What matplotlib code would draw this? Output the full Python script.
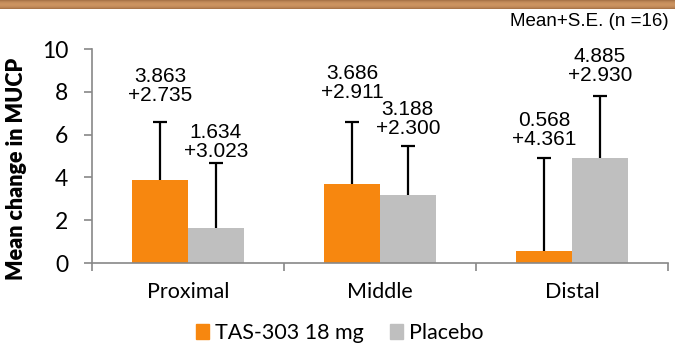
import numpy as np
import matplotlib
matplotlib.use("Agg")
import matplotlib.pyplot as plt
from matplotlib.patches import Rectangle

categories = ["Proximal", "Middle", "Distal"]
series_names = ["TAS-303 18 mg", "Placebo"]
tas_mean = [3.863, 3.686, 0.568]
tas_se = [2.735, 2.911, 4.361]
pla_mean = [1.634, 3.188, 4.885]
pla_se = [3.023, 2.300, 2.930]
yticks = [0, 2, 4, 6, 8, 10]
note = "Mean+S.E. (n =16)"
ylabel = "Mean change in MUCP"

colors = ["#F7870F", "#BFBFBF"]
label_gap_px = [[17, 20, 9], [2, 8, 11]]

W, H = 675, 344
fig = plt.figure(figsize=(W / 100, H / 100), dpi=100)

# header bar
hax = fig.add_axes([0, 1 - 9 / H, 1, 9 / H])
grad = np.linspace(0, 1, 50)
c1 = np.array([0.62, 0.42, 0.26])
c2 = np.array([0.80, 0.58, 0.38])
img = np.array([c1 + (c2 - c1) * (np.sin(np.pi * g) ** 0.7) for g in grad])[:, None, :]
img = np.repeat(img, 10, axis=1)
hax.imshow(img, aspect="auto", extent=[0, 1, 0, 1])
hax.axis("off")

left, right = 92 / W, 668 / W
bottom, top = 1 - 263 / H, 1 - 49 / H
ax = fig.add_axes([left, bottom, right - left, top - bottom])

x = np.arange(len(categories))
bw = 0.29
means = [tas_mean, pla_mean]
ses = [tas_se, pla_se]
offs = [-bw / 2, bw / 2]
for i in range(2):
    xs = x + offs[i]
    ax.bar(xs, means[i], width=bw, color=colors[i], label=series_names[i], zorder=2)
    eb = ax.errorbar(xs, means[i], yerr=[np.zeros(3), ses[i]], fmt="none", ecolor="black",
                     elinewidth=1.6, capsize=5, capthick=1.6, zorder=3)
    eb[1][0].set_visible(False)
    for j in range(3):
        ax.annotate(f"{means[i][j]:.3f}\n+{ses[i][j]:.3f}",
                    xy=(xs[j], means[i][j] + ses[i][j]),
                    xytext=(0, label_gap_px[i][j] * 0.72), textcoords="offset points",
                    ha="center", va="bottom", fontsize=15, linespacing=1.0,
                    family="Liberation Sans", color="black", zorder=4)

ax.set_xlim(-0.5, 2.5)
ax.set_ylim(0, 10)
ax.set_yticks(yticks)
ax.set_yticklabels([str(t) for t in yticks], family="Lato", fontsize=16.5)
ax.set_xticks([-0.5, 0.5, 1.5, 2.5])
ax.set_xticklabels([])
ax.set_xticks(x, minor=True)
ax.set_xticklabels(categories, minor=True, family="Lato", fontsize=15.5)
ax.tick_params(axis="x", which="minor", length=0, pad=14)
ax.tick_params(axis="x", which="major", length=6, color="#888888", width=1.2, direction="out")
ax.tick_params(axis="y", length=6, color="#888888", width=1.2, direction="out", pad=11)
for s in ["top", "right"]:
    ax.spines[s].set_visible(False)
for s in ["left", "bottom"]:
    ax.spines[s].set_color("#888888")
    ax.spines[s].set_linewidth(1.2)
ax.set_ylabel(ylabel, family="Lato", fontsize=15.5, fontweight="heavy")
ax.yaxis.set_label_coords(-(92 - 27) / 576, (263 - 169) / 214)

fig.text(669 / W, 1 - 22 / H, note, ha="right", va="center", family="Liberation Sans", fontsize=13.5)

handles = [Rectangle((0, 0), 1, 1, color=c) for c in colors]
fig.legend(handles, series_names, loc="center", bbox_to_anchor=(340 / W, 1 - 333 / H),
           ncol=2, frameon=False, prop={"family": "Lato", "size": 15.5},
           handlelength=0.6, handleheight=0.7, handletextpad=0.3, columnspacing=1.2,
           borderaxespad=0, borderpad=0)

fig.savefig("out.png", dpi=100)
